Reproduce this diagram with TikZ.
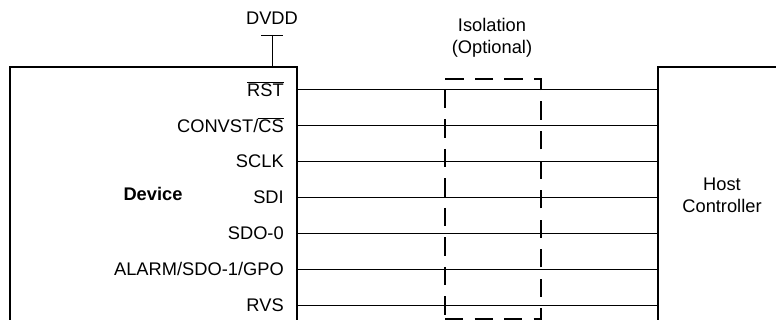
\documentclass[tikz,border=0pt]{standalone}
\usepackage{fontspec}
\setmainfont{Liberation Sans}
\usetikzlibrary{positioning}

\newcommand{\ovl}[1]{$\overline{\hbox{#1}}$}

\begin{document}
\begin{tikzpicture}[
  font=\fontsize{13}{15.5}\selectfont,
  blk/.style={draw, line width=1.4pt, rectangle, inner sep=0pt, anchor=north west},
  isobox/.style={draw, line width=1.4pt, dash pattern=on 13pt off 8pt, rectangle,
                 inner sep=0pt, anchor=north west},
  pinlbl/.style={anchor=east, inner sep=0pt},
  sig/.style={line width=0.7pt}
]
  \useasboundingbox (0,0) rectangle (19.4,8);

  % blocks, open at the bottom of the page
  \node[blk, minimum width=7.175cm, minimum height=7.35cm] (dev) at (0.225,6.35) {};
  \node[blk, minimum width=4cm, minimum height=7.35cm] (host) at (16.425,6.35) {};
  \node[isobox, minimum width=2.4cm, minimum height=6cm] (iso) at (11.1,6.05) {};

  \node[font=\fontsize{13}{15.5}\selectfont\bfseries] (devlbl) at (3.825,3.15) {Device};
  \node[align=center] (hostlbl) at (18.05,3.125) {Host\\Controller};
  \node[align=center] (isolbl) at (12.3,7.06) {Isolation\\(Optional)};

  % supply
  \node (dvdd) at (6.8,7.55) {DVDD};
  \coordinate (rail) at (6.8,7.125);
  \draw[sig] ([xshift=-0.27cm]rail) -- ([xshift=0.27cm]rail);
  \draw[sig] (rail) -- (rail |- dev.north);

  % pins
  \foreach \txt [count=\i] in {{\ovl{RST}}, {CONVST/\ovl{CS}}, {SCLK}, {SDI},
                               {SDO-0}, {ALARM/SDO-1/GPO}, {RVS}}
  {
    \node[pinlbl] (p\i) at (7.1,6.675-0.9*\i) {\txt};
    \draw[sig] (dev.east |- p\i) -- (host.west |- p\i);
  }
\end{tikzpicture}
\end{document}
